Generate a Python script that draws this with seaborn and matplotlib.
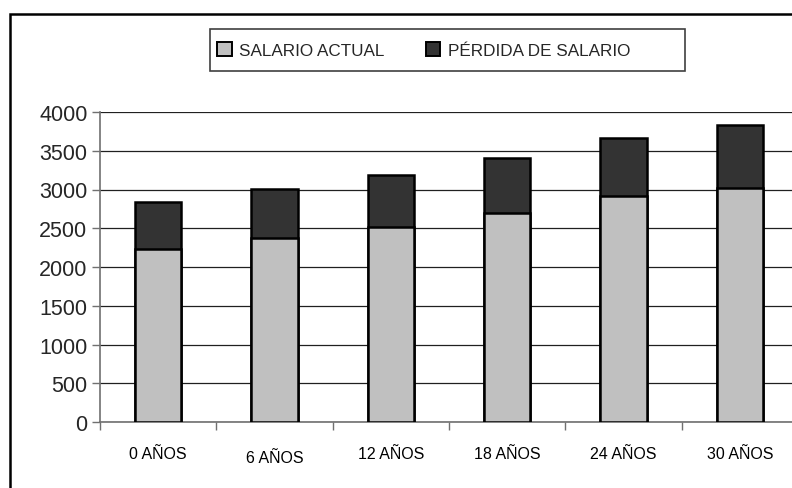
import numpy as np
import pandas as pd
import matplotlib
matplotlib.use('Agg')
import matplotlib.pyplot as plt
from matplotlib.patches import Rectangle, Patch
import seaborn as sns

# values
categorias = ['0 AÑOS', '6 AÑOS', '12 AÑOS', '18 AÑOS', '24 AÑOS', '30 AÑOS']
salario_actual = [2230, 2370, 2510, 2700, 2910, 3025]
perdida_salario = [610, 635, 680, 705, 750, 805]
yticks = [0, 500, 1000, 1500, 2000, 2500, 3000, 3500, 4000]

df = pd.DataFrame({'cat': categorias,
                   'actual': salario_actual,
                   'perdida': perdida_salario})
df['total'] = df['actual'] + df['perdida']

sns.set_style('white')
plt.rcParams['font.family'] = ['Liberation Sans', 'DejaVu Sans']

fig = plt.figure(figsize=(7.92, 4.89), dpi=100)
ax = fig.add_axes([100/792, 1-423/489, 698/792, 310/489])

claro = '#c0c0c0'
oscuro = '#333333'

# dark total bar first, light current salary drawn over it
sns.barplot(data=df, x='cat', y='total', color=oscuro, edgecolor='black',
            linewidth=1.8, width=0.4, saturation=1, ax=ax, zorder=3)
sns.barplot(data=df, x='cat', y='actual', color=claro, edgecolor='black',
            linewidth=1.8, width=0.4, saturation=1, ax=ax, zorder=4)

ax.set_ylim(0, 4000)
ax.set_xlim(-0.5, 5.5)
ax.set_yticks(yticks)
ax.yaxis.grid(True, color='#202020', linewidth=0.9, zorder=0)
ax.set_axisbelow(True)
ax.set_xlabel('')
ax.set_ylabel('')

for s in ['top', 'right']:
    ax.spines[s].set_visible(False)
for s in ['left', 'bottom']:
    ax.spines[s].set_color('#707070')
    ax.spines[s].set_linewidth(1.2)

ax.tick_params(axis='y', direction='out', length=6, width=1, color='#707070',
               labelsize=15.5, pad=3, left=True)
ax.set_xticks(np.arange(-0.5, 6, 1), minor=True)
ax.tick_params(axis='x', which='minor', direction='out', length=6, width=1,
               color='#707070', bottom=True)
ax.tick_params(axis='x', which='major', length=0, labelsize=11.5, pad=17)
for lbl in ax.get_xticklabels():
    lbl.set_color('black')
# "6 AÑOS" sits a few pixels lower in the original
ax.get_xticklabels()[1].set_y(-0.015)

# legend
handles = [Patch(facecolor=claro, edgecolor='black', linewidth=1.4, label='SALARIO ACTUAL'),
           Patch(facecolor=oscuro, edgecolor='black', linewidth=1.4, label='PÉRDIDA DE SALARIO')]
fig.legend(handles=handles, loc='center left', bbox_to_anchor=(217/792, 1-51/489),
           ncol=2, frameon=False, fontsize=12.3, handlelength=0.85, handleheight=0.85,
           handletextpad=0.45, columnspacing=2.4, borderpad=0, borderaxespad=0)
fig.patches.append(Rectangle((210/792, 1-72/489), 475/792, 42/489, transform=fig.transFigure,
                             facecolor='none', edgecolor='#404040', linewidth=1.2))

# outer chart frame
fig.patches.append(Rectangle((10/792, -0.05), 1.0, 1-15/489+0.05, transform=fig.transFigure,
                             facecolor='none', edgecolor='black', linewidth=1.8))

fig.savefig('out.png', dpi=100)
